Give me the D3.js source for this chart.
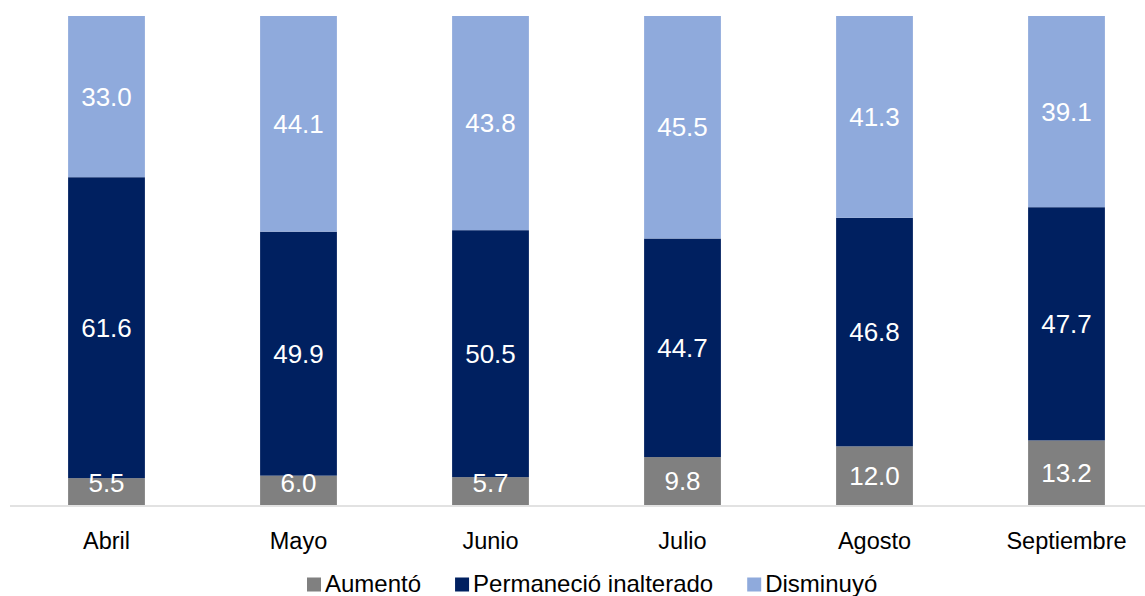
<!DOCTYPE html>
<html>
<head>
<meta charset="utf-8">
<script src="https://cdn.jsdelivr.net/npm/d3@7"></script>
<style>
  body { margin: 0; background: #fff; }
  text { font-family: Arial, "Liberation Sans", sans-serif; }
</style>
</head>
<body>
<div id="chart"></div>
<script>
// data
var months = ['Abril', 'Mayo', 'Junio', 'Julio', 'Agosto', 'Septiembre'];
var aumento = [5.5, 6.0, 5.7, 9.8, 12.0, 13.2];
var permanecio = [61.6, 49.9, 50.5, 44.7, 46.8, 47.7];
var disminuyo = [33.0, 44.1, 43.8, 45.5, 41.3, 39.1];
var seriesNames = ['Aumentó', 'Permaneció inalterado', 'Disminuyó'];
var keys = ['aumento', 'permanecio', 'disminuyo'];

var colors = ['#808080', '#002060', '#8faadc'];

let w = 1145, h = 596;
let baseY = 505, topY = 16;

var rows = months.map(function(m, i){
    return {month: m, aumento: aumento[i], permanecio: permanecio[i], disminuyo: disminuyo[i]};
});

var stacked = d3.stack().keys(keys).offset(d3.stackOffsetExpand)(rows);

var xScale = d3.scaleBand()
    .domain(months)
    .range([10.5, 1162.5])
    .paddingInner(0.6)
    .paddingOuter(0.3);

var yScale = d3.scaleLinear()
    .domain([0, 1])
    .range([baseY, topY]);

var svg = d3.select('#chart')
    .append('svg')
    .attr('width', w)
    .attr('height', h);

var groups = svg.selectAll('g.series')
    .data(stacked)
    .enter()
    .append('g')
    .attr('class', 'series')
    .attr('fill', function(d, i){ return colors[i]; });

groups.selectAll('rect')
    .data(function(d){ return d; })
    .enter()
    .append('rect')
    .attr('x', function(d){ return xScale(d.data.month); })
    .attr('y', function(d){ return yScale(d[1]); })
    .attr('width', xScale.bandwidth())
    .attr('height', function(d){ return yScale(d[0]) - yScale(d[1]); });

// axis line
var xAxis = d3.axisBottom(xScale).tickSize(0).tickPadding(26);
var axisG = svg.append('g')
    .attr('transform', 'translate(0,' + (baseY + 1) + ')')
    .call(xAxis);
axisG.select('.domain')
    .attr('d', 'M10,0H1145')
    .attr('stroke', '#d9d9d9')
    .attr('stroke-width', 1.5);
axisG.selectAll('.tick text')
    .attr('font-size', '23.5px')
    .attr('fill', '#000')
    .style('font-family', 'Arial, "Liberation Sans", sans-serif');

// value labels, in their own layer above all bars
var labelLayer = svg.append('g');
stacked.forEach(function(s){
    var key = s.key;
    labelLayer.selectAll('text.val-' + key)
        .data(s)
        .enter()
        .append('text')
        .attr('class', 'val-' + key)
        .attr('x', function(d){ return xScale(d.data.month) + xScale.bandwidth() / 2; })
        .attr('y', function(d){
            var mid = (yScale(d[0]) + yScale(d[1])) / 2;
            return Math.min(mid, baseY - 22);
        })
        .attr('dy', '0.35em')
        .attr('text-anchor', 'middle')
        .attr('font-size', '26px')
        .attr('fill', '#fff')
        .text(function(d){ return d.data[key].toFixed(1); });
});

// legend
var legend = svg.append('g').attr('transform', 'translate(0,592)');
var items = legend.selectAll('g.item')
    .data(seriesNames)
    .enter()
    .append('g')
    .attr('class', 'item');
items.append('rect')
    .attr('y', -14.5)
    .attr('width', 14)
    .attr('height', 14)
    .attr('fill', function(d, i){ return colors[i]; });
items.append('text')
    .attr('x', 18)
    .attr('font-size', '24px')
    .attr('fill', '#000')
    .text(function(d){ return d; });

let xpos = 307;
items.each(function(){
    var g = d3.select(this);
    g.attr('transform', 'translate(' + xpos + ',0)');
    xpos += 18 + g.select('text').node().getComputedTextLength() + 34;
});
</script>
</body>
</html>
